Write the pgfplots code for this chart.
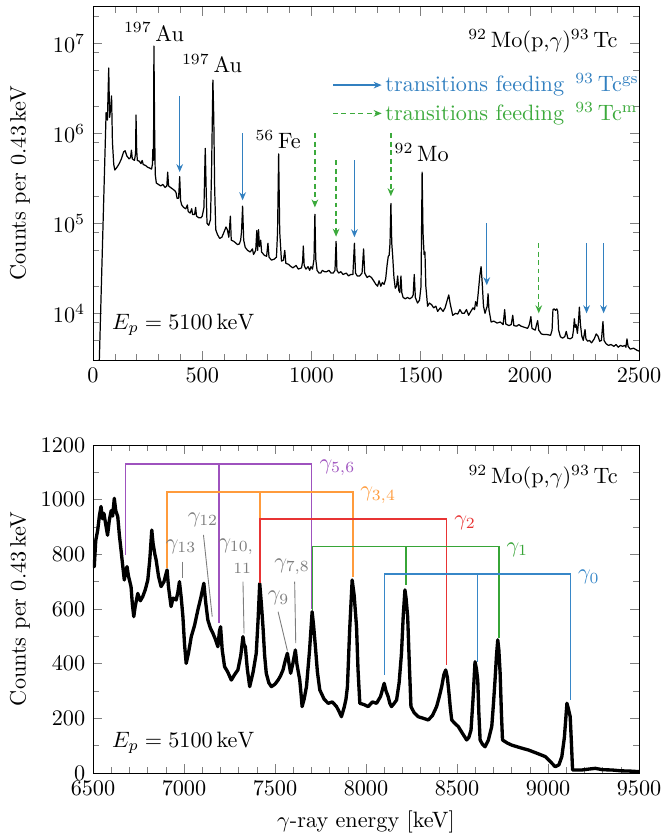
\documentclass[border=0pt]{standalone}
\usepackage{pgfplots}
\pgfplotsset{compat=1.18}
\usetikzlibrary{arrows.meta}
\definecolor{cblue}{RGB}{50,128,192}
\definecolor{cgreen}{RGB}{60,170,60}
\definecolor{bpurple}{RGB}{158,82,190}
\definecolor{borange}{RGB}{255,155,60}
\definecolor{bred}{RGB}{232,52,52}
\definecolor{bgreen}{RGB}{55,165,55}
\definecolor{bblue}{RGB}{55,135,200}
\definecolor{lgray}{RGB}{125,125,125}
\pgfplotstableread{
x y
27 2000
60 1.7e6
66 1.4e6
72 5.3e6
76 1.5e6
80 1.8e6
85 2.6e6
89 8e5
95 4.5e5
100 3.9e5
110 4.2e5
120 4.6e5
130 5.2e5
140 6.2e5
147 6.4e5
155 5.6e5
165 5.2e5
172 5.4e5
176 6.5e5
180 5.2e5
190 5.0e5
195 6e5
197 1.6e6
200 6.5e5
203 5.0e5
212 4.9e5
220 4.6e5
225 5.0e5
230 4.5e5
240 4.4e5
250 4.2e5
260 4.1e5
268 4.0e5
272 4.5e5
274 6.6e5
277 5e5
279 9.3e6
282 1.2e6
285 3.5e5
290 2.8e5
300 2.7e5
310 2.6e5
320 2.7e5
330 2.5e5
338 2.6e5
342 3.7e5
346 2.6e5
355 2.5e5
365 2.4e5
375 2.3e5
380 2.2e5
385 1.9e5
392 1.9e5
397 3.3e5
401 1.8e5
406 1.6e5
415 1.5e5
425 1.45e5
432 1.6e5
436 1.35e5
445 1.3e5
452 1.45e5
456 1.25e5
465 1.25e5
470 1.5e5
474 1.2e5
485 1.15e5
494 1.15e5
500 1.2e5
508 1.5e5
514 6.8e5
518 2.5e5
522 1.0e5
530 9.5e4
538 1.1e5
543 4e5
549 3.9e6
553 1.5e6
557 2.5e5
562 8.5e4
570 7.5e4
580 6.8e4
590 7.0e4
600 8.0e4
609 9.1e4
615 8.5e4
622 7.0e4
629 1.2e5
633 6.5e4
645 6.3e4
655 6.0e4
662 5.8e4
670 5.9e4
676 6.5e4
680 8e4
685 1.55e5
690 6.5e4
697 5.4e4
708 5.0e4
720 4.8e4
730 5.2e4
735 4.5e4
745 5.0e4
750 8.3e4
754 5e4
758 8.5e4
762 5.5e4
768 6.5e4
772 4.8e4
785 4.4e4
795 4.3e4
801 6.0e4
806 4.2e4
817 3.9e4
830 4.0e4
840 4.2e4
845 8e4
850 5.9e5
855 8e4
863 3.8e4
872 3.9e4
878 5.0e4
883 3.6e4
895 3.5e4
907 3.3e4
915 3.2e4
930 3.4e4
940 3.1e4
955 3.2e4
960 3.8e4
963 5.6e4
967 3.4e4
975 3.1e4
985 3.3e4
992 3.0e4
998 3.3e4
1005 3.1e4
1012 4e4
1016 1.26e5
1020 4e4
1026 3.0e4
1035 2.8e4
1043 2.8e4
1050 3.0e4
1060 2.9e4
1070 2.9e4
1080 3.0e4
1090 2.8e4
1100 2.8e4
1108 3.0e4
1113 6.3e4
1117 3.0e4
1125 2.8e4
1135 2.9e4
1145 2.7e4
1160 2.8e4
1170 2.6e4
1180 2.7e4
1190 2.7e4
1197 6.0e4
1202 2.8e4
1210 2.6e4
1221 2.6e4
1232 2.8e4
1239 5.2e4
1244 2.8e4
1255 2.5e4
1265 2.6e4
1275 2.5e4
1285 2.3e4
1295 2.1e4
1303 2.0e4
1310 2.3e4
1318 2.0e4
1325 2.2e4
1333 2.1e4
1340 2.4e4
1347 3.5e4
1352 4.3e4
1356 4.4e4
1360 6e4
1364 1.66e5
1368 6e4
1372 4.4e4
1378 2.5e4
1384 1.9e4
1390 2.0e4
1395 2.6e4
1400 1.8e4
1405 1.7e4
1410 2.6e4
1414 1.7e4
1420 1.5e4
1430 1.45e4
1440 1.5e4
1450 1.45e4
1460 1.5e4
1466 1.6e4
1471 2.7e4
1476 1.5e4
1486 1.3e4
1495 1.4e4
1502 2e4
1507 3.7e5
1511 8e4
1516 4.5e4
1520 4.8e4
1524 2e4
1532 1.2e4
1540 1.3e4
1550 1.25e4
1560 1.15e4
1570 1.2e4
1578 1.05e4
1590 1.15e4
1603 1.05e4
1612 1.15e4
1622 1.4e4
1629 1.6e4
1635 1.3e4
1647 9.5e3
1660 1.0e4
1670 9.8e3
1680 1.1e4
1690 1.0e4
1700 1.0e4
1710 1.1e4
1720 9.5e3
1730 1.05e4
1740 1.15e4
1747 1.1e4
1752 1.35e4
1758 1.2e4
1765 1.8e4
1771 2.6e4
1777 3.3e4
1782 2.2e4
1788 1.2e4
1795 1.0e4
1800 1.1e4
1805 1.2e4
1809 1.65e4
1813 1.1e4
1823 8.0e3
1835 8.2e3
1850 7.8e3
1865 8.0e3
1878 7.5e3
1885 1.1e4
1890 7.6e3
1905 7.3e3
1915 7.5e3
1922 9.5e3
1927 7.3e3
1940 7.2e3
1950 7.5e3
1960 7.2e3
1975 7.0e3
1990 6.8e3
1998 7.5e3
2005 9.2e3
2010 6.8e3
2025 6.5e3
2031 7.5e3
2036 8.3e3
2041 6.5e3
2053 5.9e3
2065 5.8e3
2080 5.8e3
2095 5.7e3
2102 6.5e3
2106 1.1e4
2112 1.12e4
2118 1.08e4
2124 1.12e4
2128 1.05e4
2132 6.5e3
2140 5.5e3
2150 5.3e3
2160 5.5e3
2167 6.3e3
2174 5.3e3
2185 5.2e3
2195 5.4e3
2200 6.5e3
2204 8.7e3
2208 7e3
2212 7.5e3
2218 6.0e3
2223 8e3
2227 1.17e4
2232 7.5e3
2238 5.6e3
2245 5.0e3
2250 6.0e3
2253 6.6e3
2257 5.2e3
2265 4.9e3
2273 5.0e3
2283 4.7e3
2295 5.2e3
2304 5.9e3
2312 5.6e3
2320 4.9e3
2328 5.0e3
2335 8.1e3
2340 5.0e3
2349 4.6e3
2360 4.4e3
2372 4.5e3
2385 4.3e3
2395 4.5e3
2405 4.2e3
2415 4.4e3
2425 4.3e3
2436 4.4e3
2440 4.2e3
2445 5.2e3
2450 4.3e3
2460 4.0e3
2475 4.1e3
2490 3.9e3
2500 3.8e3
}\toptable
\pgfplotstableread{
x y
6500 760
6507 755
6515 850
6526 889
6535 940
6544 975
6552 930
6560 950
6572 901
6580 870
6590 926
6600 960
6608 940
6617 1005
6625 960
6636 938
6645 870
6654 816
6663 760
6672 706
6680 740
6687 755
6695 720
6709 682
6716 620
6724 572
6732 610
6746 657
6760 630
6773 645
6787 670
6801 706
6812 780
6823 889
6830 840
6840 800
6847 779
6860 720
6874 682
6890 700
6907 743
6915 680
6929 609
6940 640
6957 633
6966 660
6975 700
6985 640
6994 572
7003 470
7012 401
7025 440
7040 499
7058 540
7076 596
7092 640
7109 694
7120 620
7131 560
7145 530
7159 511
7172 490
7186 462
7195 520
7201 535
7210 450
7223 389
7240 370
7260 340
7278 360
7296 377
7312 430
7324 499
7330 470
7337 462
7348 380
7361 316
7380 370
7397 438
7407 560
7416 694
7425 620
7434 535
7443 430
7452 365
7466 330
7480 316
7500 325
7517 340
7530 355
7544 377
7556 410
7568 438
7577 400
7586 365
7598 400
7612 450
7620 400
7636 340
7643 290
7649 243
7660 270
7673 316
7690 450
7704 590
7712 540
7722 462
7733 370
7746 304
7770 270
7792 255
7815 260
7838 243
7852 225
7865 206
7880 240
7890 270
7898 316
7910 520
7924 706
7935 650
7948 535
7956 380
7966 255
7990 250
8012 243
8035 260
8058 255
8080 280
8100 328
8110 300
8122 279
8131 255
8140 243
8155 255
8168 267
8182 330
8195 438
8205 580
8214 670
8220 640
8229 572
8238 400
8247 243
8265 220
8287 206
8315 200
8342 194
8365 210
8388 243
8403 280
8416 316
8428 360
8438 377
8447 350
8456 292
8463 240
8471 194
8490 180
8507 170
8530 145
8553 121
8565 130
8577 157
8588 270
8599 407
8607 380
8614 340
8620 220
8627 121
8640 105
8654 96
8672 120
8691 170
8700 250
8709 340
8717 430
8724 487
8730 450
8737 365
8744 220
8750 121
8775 110
8801 102
8850 92
8893 84
8940 72
8985 60
9015 40
9040 23
9060 30
9076 60
9090 130
9104 255
9112 235
9122 206
9128 120
9135 11
9160 11
9186 11
9220 14
9260 17
9300 12
9352 11
9400 8
9450 7
9500 5
}\bottable
\begin{document}
\begin{tikzpicture}
\path[use as bounding box] (-41.85pt,-30.15pt) rectangle (255.6pt,347.85pt);
% ---------------- top panel ----------------
\begin{axis}[
  at={(0pt,185.85pt)}, anchor=south west,
  scale only axis, width=245.7pt, height=159pt,
  xmin=0, xmax=2500, ymode=log, ymin=3030, ymax=2.55e7,
  xtick={0,500,...,2500}, minor x tick num=4,
  ytick={1e4,1e5,1e6,1e7},
  minor ytick={5e3,8e3,2e4,5e4,8e4,2e5,5e5,8e5,2e6,5e6,8e6,2e7},
  xticklabel style={/pgf/number format/1000 sep={}},
  ylabel={Counts per 0.43\,keV},
  ylabel style={at={(axis description cs:-0.1337,0.5)},anchor=center},
]
\addplot[black, line width=0.55pt, line join=round] table[x=x,y=y] {\toptable};
% arrows feeding gs
\foreach \xx/\ya/\yb in {397/2.6e6/3.7e5, 685/1e6/1.8e5, 1197/5e5/7e4, 1803/1e5/2.05e4, 2260/6e4/1e4, 2338/6e4/1e4}{
  \edef\temp{\noexpand\draw[cblue, line width=0.6pt, -{Stealth[length=3.6pt,width=3pt]}] (axis cs:\xx,\ya) -- (axis cs:\xx,\yb);}
  \temp
}
\foreach \xx/\ya/\yb in {1016/1e6/1.5e5, 1113/5e5/7.1e4, 1364/1e6/2e5, 2041/6e4/1e4}{
  \edef\temp{\noexpand\draw[cgreen, line width=0.6pt, dashed, dash pattern=on 2.2pt off 1.6pt, -{Stealth[length=3.6pt,width=3pt]}] (axis cs:\xx,\ya) -- (axis cs:\xx,\yb);}
  \temp
}
% legend
\draw[cblue, line width=0.6pt, -{Stealth[length=3.6pt,width=3pt]}] (rel axis cs:0.4396,0.778) -- (rel axis cs:0.5287,0.778);
\node[anchor=west, inner sep=0.8pt, text=cblue] at (rel axis cs:0.5315,0.778) {transitions feeding \,$^{93}\,$Tc$^{\mathrm{gs}}$};
\draw[cgreen, line width=0.6pt, dash pattern=on 2.2pt off 1.6pt, -{Stealth[length=3.6pt,width=3pt]}] (rel axis cs:0.4396,0.698) -- (rel axis cs:0.5287,0.698);
\node[anchor=west, inner sep=0.8pt, text=cgreen] at (rel axis cs:0.5315,0.698) {transitions feeding \,$^{93}\,$Tc$^{\mathrm{m}}$};
% labels
\node at (rel axis cs:0.1117,0.928) {$^{197}\,$Au};
\node at (rel axis cs:0.218,0.838) {$^{197}\,$Au};
\node at (rel axis cs:0.339,0.623) {$^{56}\,$Fe};
\node at (rel axis cs:0.602,0.586) {$^{92}\,$Mo};
\node[anchor=east, inner sep=0pt] at (rel axis cs:0.9615,0.903) {$^{92}\,$Mo(p,$\gamma$)$^{93}\,$Tc};
\node[anchor=west, inner sep=0pt] at (rel axis cs:0.0342,0.099) {$E_p = 5100\,\mathrm{keV}$};
\end{axis}
% ---------------- bottom panel ----------------
\begin{axis}[
  at={(0pt,0pt)}, anchor=south west,
  scale only axis, width=245.7pt, height=147.6pt,
  xmin=6500, xmax=9500, ymin=0, ymax=1200,
  xtick={6500,7000,...,9500}, minor x tick num=4,
  ytick={0,200,...,1200}, minor y tick num=1,
  xticklabel style={/pgf/number format/1000 sep={}},
  yticklabel style={/pgf/number format/1000 sep={}},
  xlabel={$\gamma$-ray energy [keV]},
  ylabel={Counts per 0.43\,keV},
  ylabel style={at={(axis description cs:-0.1337,0.5)},anchor=center},
]
\addplot[black, line width=1.5pt, line join=round] table[x=x,y=y] {\bottable};
% gamma 5,6
\addplot[bpurple, line width=0.6pt] coordinates {(6678,798) (6678,1130) (7702,1130) (7702,599)};
\addplot[bpurple, line width=0.6pt] coordinates {(7192,1130) (7192,548)};
% gamma 3,4
\addplot[borange, line width=0.9pt] coordinates {(6907,749) (6907,1029) (7926,1029) (7926,718)};
\addplot[borange, line width=0.9pt] coordinates {(7419,1029) (7419,694)};
% gamma 2
\addplot[bred, line width=0.7pt] coordinates {(7419,694) (7419,929) (8443,929) (8443,395)};
% gamma 1
\addplot[bgreen, line width=0.6pt] coordinates {(7706,596) (7706,828) (8730,828) (8730,493)};
\addplot[bgreen, line width=0.6pt] coordinates {(8219,828) (8219,688)};
% gamma 0
\addplot[bblue, line width=0.6pt] coordinates {(8100,359) (8100,728) (9122,728) (9122,267)};
\addplot[bblue, line width=0.6pt] coordinates {(8612,728) (8612,407)};
\node[anchor=west, text=bpurple] at (axis cs:7702,1116) {$\gamma_{5,6}$};
\node[anchor=west, text=borange] at (axis cs:7926,1016) {$\gamma_{3,4}$};
\node[anchor=west, text=bred] at (axis cs:8443,916) {$\gamma_{2}$};
\node[anchor=west, text=bgreen] at (axis cs:8730,816) {$\gamma_{1}$};
\node[anchor=west, text=bblue] at (axis cs:9122,716) {$\gamma_{0}$};
% gray labels
\draw[lgray, line width=0.4pt] (axis cs:6990,773) -- (axis cs:6990,713);
\draw[lgray, line width=0.4pt] (axis cs:7107,871) -- (axis cs:7155,572);
\draw[lgray, line width=0.4pt] (axis cs:7324,700) -- (axis cs:7330,511);
\draw[lgray, line width=0.4pt] (axis cs:7517,590) -- (axis cs:7568,448);
\draw[lgray, line width=0.4pt] (axis cs:7608,700) -- (axis cs:7614,475);
\node[text=lgray, inner sep=0pt] at (axis cs:6984,828) {$\gamma_{13}$};
\node[text=lgray, inner sep=0pt] at (axis cs:7104,927) {$\gamma_{12}$};
\node[text=lgray, inner sep=0pt] at (axis cs:7287,828) {$\gamma_{10,}$};
\node[text=lgray, inner sep=0pt] at (axis cs:7320,749) {$\scriptstyle 11$};
\node[text=lgray, inner sep=0pt] at (axis cs:7520,639) {$\gamma_{9}$};
\node[text=lgray, inner sep=0pt] at (axis cs:7594,755) {$\gamma_{7,8}$};
\node[anchor=east, inner sep=0pt] at (rel axis cs:0.962,0.9015) {$^{92}\,$Mo(p,$\gamma$)$^{93}\,$Tc};
\node[anchor=west, inner sep=0pt] at (rel axis cs:0.0342,0.0915) {$E_p = 5100\,\mathrm{keV}$};
\end{axis}
\end{tikzpicture}
\end{document}
